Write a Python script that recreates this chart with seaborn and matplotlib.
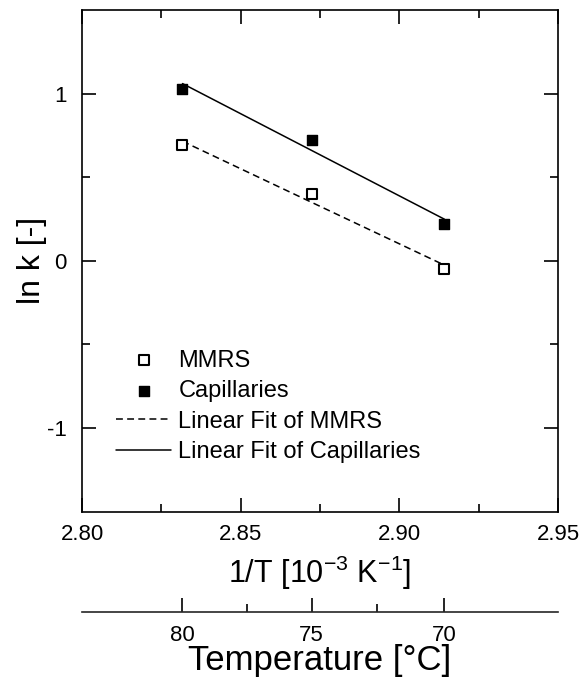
import numpy as np
import pandas as pd
import matplotlib
matplotlib.use("Agg")
import matplotlib.pyplot as plt
import seaborn as sns
from matplotlib.ticker import FixedLocator, MultipleLocator, FormatStrFormatter

# Measured rate constants at three temperatures
temps_c = [80, 75, 70]
ln_k_mmrs = [0.69, 0.40, -0.05]
ln_k_capillaries = [1.03, 0.72, 0.22]
series_names = ["MMRS", "Capillaries"]
fit_names = ["Linear Fit of MMRS", "Linear Fit of Capillaries"]

inv_t = [1000.0 / (t + 273.15) for t in temps_c]

sns.set_style("ticks")
plt.rcParams["font.family"] = ["Liberation Sans", "DejaVu Sans"]
plt.rcParams["axes.unicode_minus"] = False
plt.rcParams["mathtext.fontset"] = "custom"
plt.rcParams["mathtext.rm"] = "Liberation Sans"
plt.rcParams["text.color"] = "black"
plt.rcParams["axes.labelcolor"] = "black"

fig = plt.figure(figsize=(5.82, 6.77), dpi=100)
ax = fig.add_axes([0.1409, 0.2442, 0.8179, 0.741])

df = pd.DataFrame({
    "inv_t": inv_t * 2,
    "ln_k": ln_k_mmrs + ln_k_capillaries,
    "series": [series_names[0]] * 3 + [series_names[1]] * 3,
})

# data points
sns.scatterplot(data=df[df.series == "MMRS"], x="inv_t", y="ln_k", marker="s",
                s=55, facecolor="white", edgecolor="black", linewidth=1.5,
                label=series_names[0], ax=ax, zorder=3)
sns.scatterplot(data=df[df.series == "Capillaries"], x="inv_t", y="ln_k", marker="s",
                s=60, color="black", edgecolor="black", linewidth=1,
                label=series_names[1], ax=ax, zorder=3)

# linear fits over the measured range
xs = np.array(inv_t)
for vals, name, ls in [(ln_k_mmrs, fit_names[0], (0, (4.5, 2.8))),
                       (ln_k_capillaries, fit_names[1], "-")]:
    p = np.polyfit(xs, vals, 1)
    fit_df = pd.DataFrame({"x": [xs.min(), xs.max()], "y": np.polyval(p, [xs.min(), xs.max()])})
    sns.lineplot(data=fit_df, x="x", y="y", color="black", linewidth=1.1,
                 linestyle=ls, label=name, ax=ax, zorder=2)

ax.set_xlim(2.80, 2.95)
ax.set_ylim(-1.5, 1.5)
ax.xaxis.set_major_locator(MultipleLocator(0.05))
ax.xaxis.set_minor_locator(MultipleLocator(0.025))
ax.xaxis.set_major_formatter(FormatStrFormatter("%.2f"))
ax.yaxis.set_major_locator(FixedLocator([-1, 0, 1]))
ax.yaxis.set_minor_locator(FixedLocator([-0.5, 0.5]))

for sp in ax.spines.values():
    sp.set_visible(True)
    sp.set_linewidth(1.2)
    sp.set_color("black")

ax.tick_params(which="both", direction="in", top=True, right=True,
               width=1.2, color="black", labelsize=16, labelcolor="black")
ax.tick_params(which="major", length=10)
ax.tick_params(which="minor", length=5.5)
ax.tick_params(axis="x", which="major", pad=9)
ax.tick_params(axis="y", which="major", pad=11)

ax.set_xlabel(r"1/T [10$^{\mathregular{-3}}$ K$^{\mathregular{-1}}$]", fontsize=22, labelpad=6)
ax.set_ylabel("ln k [-]", fontsize=23, labelpad=0)

# temperature scale below the main axis
sec = ax.secondary_xaxis(-0.199, functions=(lambda x: 1000.0 / x - 273.15,
                                             lambda t: 1000.0 / (t + 273.15)))
sec.xaxis.set_major_locator(FixedLocator(temps_c))
sec.xaxis.set_minor_locator(FixedLocator([77.5, 72.5]))
sec.xaxis.set_major_formatter(FormatStrFormatter("%d"))
sec.spines["bottom"].set_linewidth(1.2)
sec.tick_params(which="both", direction="in", width=1.2, color="black",
                labelsize=16, labelcolor="black", pad=9.5)
sec.tick_params(which="major", length=10)
sec.tick_params(which="minor", length=5.5)
sec.set_xlabel("Temperature [°C]", fontsize=25, labelpad=-1)

leg = ax.legend(loc="upper left", bbox_to_anchor=(0.071, 0.323), frameon=False,
                fontsize=17, handlelength=2.35, handletextpad=0.3,
                labelspacing=0.36, borderpad=0, borderaxespad=0)

fig.savefig("out.png", dpi=100)
